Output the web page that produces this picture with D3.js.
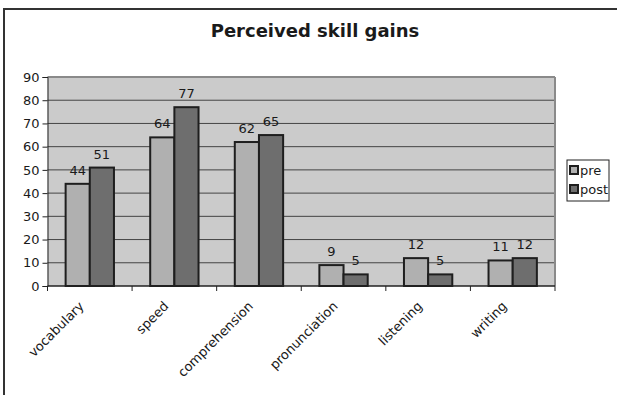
<!DOCTYPE html>
<html>
<head>
<meta charset="utf-8">
<script src="https://cdn.jsdelivr.net/npm/d3@7"></script>
<style>
body { margin: 0; background: #fff; }
svg text { font-family: "DejaVu Sans", Verdana, sans-serif; fill: #1a1a1a; }
</style>
</head>
<body>
<div id="chart"></div>
<script>
var categories = ["vocabulary", "speed", "comprehension", "pronunciation", "listening", "writing"];
var pre = [44, 64, 62, 9, 12, 11];
var post = [51, 77, 65, 5, 5, 12];
var seriesNames = ["pre", "post"];
var seriesColors = ["#b0b0b0", "#6e6e6e"];
var yTicks = [0, 10, 20, 30, 40, 50, 60, 70, 80, 90];

var W = 617, H = 395;
var margin = {top: 77, right: 62, bottom: 109, left: 47.5},
    width = W - margin.left - margin.right,
    height = H - margin.top - margin.bottom;

var svg = d3.select("#chart")
    .append("svg")
    .attr("width", W)
    .attr("height", H);

// outer frame of the chart object
svg.append("rect")
    .attr("x", 4).attr("y", 9)
    .attr("width", 640).attr("height", 420)
    .attr("fill", "none")
    .attr("stroke", "#333")
    .attr("stroke-width", 2);

svg.append("text")
    .attr("x", 315).attr("y", 37)
    .attr("text-anchor", "middle")
    .style("font-size", "18px")
    .style("font-weight", "bold")
    .text("Perceived skill gains");

var g = svg.append("g")
    .attr("transform", "translate(" + margin.left + "," + margin.top + ")");

var x = d3.scaleBand().domain(categories).range([0, width]).paddingInner(0).paddingOuter(0);
// excel gap width 150%: bars take 2/3.5 of each band
var x1 = d3.scaleBand().domain(seriesNames).range([x.bandwidth() * 0.75 / 3.5, x.bandwidth() * 2.75 / 3.5]);
var y = d3.scaleLinear().domain([0, 90]).range([height, 0]);

g.append("rect")
    .attr("x", 0).attr("y", 0)
    .attr("width", width).attr("height", height)
    .attr("fill", "#cbcbcb");

g.selectAll(".grid")
    .data(yTicks.filter(function(d) { return d > 0; }))
    .enter()
    .append("line")
    .attr("x1", 0).attr("x2", width)
    .attr("y1", function(d) { return y(d); })
    .attr("y2", function(d) { return y(d); })
    .attr("stroke", d => d == 90 ? "#8a8a8a" : "#444")
    .attr("stroke-width", d => d == 90 ? 2 : 1);

g.append("line")
    .attr("x1", width).attr("x2", width)
    .attr("y1", 0).attr("y2", height)
    .attr("stroke", "#8a8a8a").attr("stroke-width", 2);

var data = [];
categories.forEach(function(c, i) {
    data.push({cat: c, s: "pre", v: pre[i], color: seriesColors[0]});
    data.push({cat: c, s: "post", v: post[i], color: seriesColors[1]});
});

g.selectAll(".bar")
    .data(data)
    .enter()
    .append("rect")
    .attr("x", function(d) { return x(d.cat) + x1(d.s); })
    .attr("y", function(d) { return y(d.v); })
    .attr("width", x1.bandwidth())
    .attr("height", function(d) { return height - y(d.v); })
    .attr("fill", function(d) { return d.color; })
    .attr("stroke", "#1e1e1e")
    .attr("stroke-width", 2);

g.selectAll(".lbl")
    .data(data)
    .enter()
    .append("text")
    .attr("x", function(d) { return x(d.cat) + x1(d.s) + x1.bandwidth() / 2; })
    .attr("y", function(d) { return y(d.v) - 9; })
    .attr("text-anchor", "middle")
    .style("font-size", "13px")
    .text(function(d) { return d.v; });

// y axis
var yAxis = g.append("g")
    .call(d3.axisLeft(y).tickValues(yTicks).tickSize(5).tickPadding(3));
yAxis.select(".domain").attr("stroke", "#222");
yAxis.selectAll(".tick line").attr("stroke", "#222");
yAxis.selectAll("text").style("font-size", "13px").attr("fill", "#1a1a1a");

// x axis with ticks at category boundaries
var xAxis = g.append("g")
    .attr("transform", "translate(0," + height + ")");
xAxis.append("line")
    .attr("x1", 0).attr("x2", width)
    .attr("stroke", "#222").attr("stroke-width", 1.5);
var bounds = categories.map(function(c) { return x(c); }).concat([width]);
xAxis.selectAll(".xt")
    .data(bounds)
    .enter()
    .append("line")
    .attr("x1", function(d) { return d; }).attr("x2", function(d) { return d; })
    .attr("y1", 0).attr("y2", 5)
    .attr("stroke", "#222");
xAxis.selectAll(".xl")
    .data(categories)
    .enter()
    .append("text")
    .attr("transform", function(d) {
        return "translate(" + (x(d) + x.bandwidth() / 2 - 5) + ",21)rotate(-45)";
    })
    .attr("text-anchor", "end")
    .style("font-size", "13px")
    .text(function(d) { return d; });

// legend
var leg = svg.append("g").attr("transform", "translate(567,160)");
leg.append("rect")
    .attr("width", 42).attr("height", 41)
    .attr("fill", "#fff").attr("stroke", "#222").attr("stroke-width", 1);
seriesNames.forEach(function(s, i) {
    leg.append("rect")
        .attr("x", 3).attr("y", 6 + i * 19)
        .attr("width", 8).attr("height", 8)
        .attr("fill", seriesColors[i])
        .attr("stroke", "#1e1e1e").attr("stroke-width", 2);
    leg.append("text")
        .attr("x", 13).attr("y", 15 + i * 19)
        .style("font-size", "13px")
        .text(s);
});
</script>
</body>
</html>
